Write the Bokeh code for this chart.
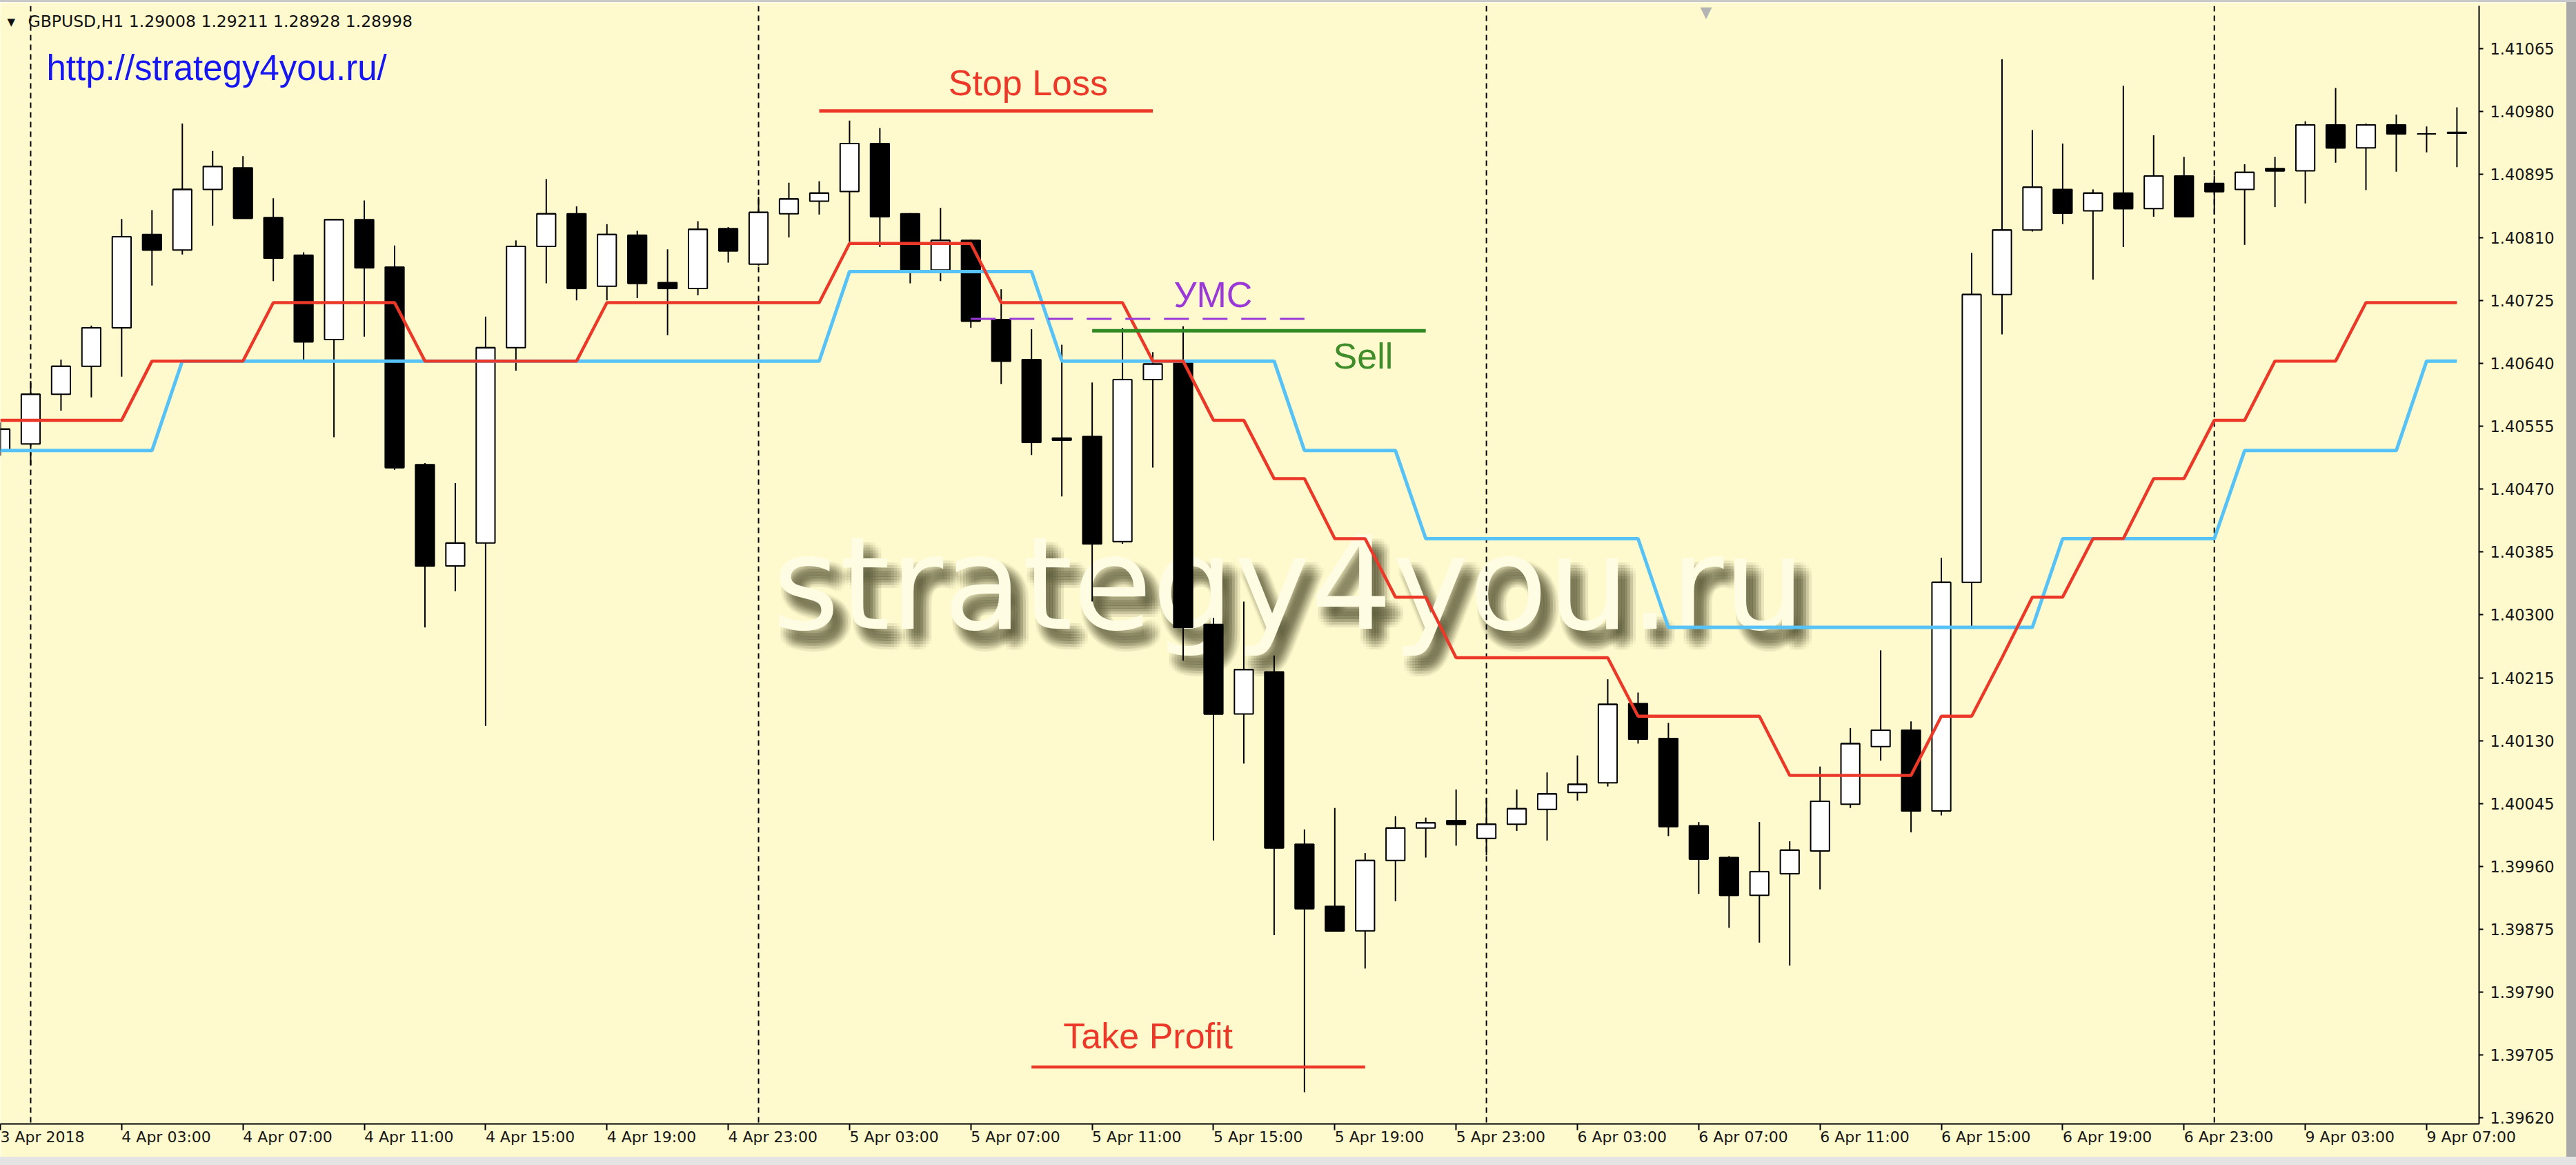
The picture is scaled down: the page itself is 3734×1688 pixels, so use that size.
from bokeh.plotting import figure
from bokeh.models import Range1d, FixedTicker, PrintfTickFormatter, Label, Span, Div
from bokeh.layouts import row, column
from bokeh.embed import file_html
from bokeh.resources import INLINE

# ---------------------------------------------------------------- data
# GBPUSD H1 bars, index 0 = 4 Apr 2018 00:00 (index -1 = 3 Apr 23:00)
bar_index = list(range(-1, 81))

open_px = [
    1.40522, 1.40531, 1.40598, 1.40636, 1.40688, 1.40814, 1.40793, 1.40875, 1.40904, 1.40837,
    1.40786, 1.40672, 1.40834, 1.40770, 1.40503, 1.40366, 1.40397, 1.40661, 1.40798, 1.40842,
    1.40744, 1.40813, 1.40749, 1.40741, 1.40822, 1.40774, 1.40842, 1.40859, 1.40872, 1.40937,
    1.40842, 1.40766, 1.40806, 1.40699, 1.40645, 1.40539, 1.40541, 1.40399, 1.40618, 1.40641,
    1.40287, 1.40166, 1.40223, 1.39990, 1.39906, 1.39873, 1.39968, 1.40012, 1.40022, 1.39998,
    1.40017, 1.40037, 1.40060, 1.40073, 1.40180, 1.40133, 1.40015, 1.39972, 1.39921, 1.39950,
    1.39981, 1.40044, 1.40122, 1.40144, 1.40035, 1.40344, 1.40733, 1.40820, 1.40875, 1.40846,
    1.40870, 1.40849, 1.40893, 1.40883, 1.40875, 1.40903, 1.40900, 1.40962, 1.40931, 1.40962,
    1.40950, 1.40952,
]
high_px = [
    1.40560, 1.40616, 1.40645, 1.40691, 1.40835, 1.40847, 1.40964, 1.40927, 1.40920, 1.40863,
    1.40790, 1.40834, 1.40860, 1.40799, 1.40505, 1.40478, 1.40703, 1.40806, 1.40889, 1.40852,
    1.40828, 1.40819, 1.40794, 1.40832, 1.40824, 1.40865, 1.40884, 1.40886, 1.40968, 1.40958,
    1.40843, 1.40850, 1.40807, 1.40740, 1.40686, 1.40665, 1.40614, 1.40688, 1.40655, 1.40690,
    1.40296, 1.40318, 1.40245, 1.40010, 1.40039, 1.39978, 1.40028, 1.40026, 1.40064, 1.40053,
    1.40064, 1.40087, 1.40110, 1.40213, 1.40195, 1.40154, 1.40020, 1.39974, 1.40020, 1.39994,
    1.40095, 1.40147, 1.40252, 1.40156, 1.40377, 1.40789, 1.41051, 1.40955, 1.40937, 1.40875,
    1.41015, 1.40948, 1.40919, 1.40893, 1.40909, 1.40919, 1.40967, 1.41012, 1.40964, 1.40976,
    1.40960, 1.40986,
]
low_px = [
    1.40515, 1.40502, 1.40576, 1.40594, 1.40622, 1.40745, 1.40787, 1.40826, 1.40836, 1.40751,
    1.40645, 1.40540, 1.40676, 1.40496, 1.40283, 1.40332, 1.40150, 1.40630, 1.40748, 1.40725,
    1.40725, 1.40728, 1.40678, 1.40732, 1.40776, 1.40772, 1.40810, 1.40841, 1.40804, 1.40797,
    1.40748, 1.40751, 1.40688, 1.40612, 1.40516, 1.40460, 1.40318, 1.40396, 1.40499, 1.40238,
    1.39995, 1.40099, 1.39867, 1.39655, 1.39873, 1.39822, 1.39913, 1.39972, 1.39988, 1.39975,
    1.40008, 1.39995, 1.40049, 1.40068, 1.40126, 1.40001, 1.39923, 1.39877, 1.39857, 1.39826,
    1.39929, 1.40039, 1.40103, 1.40006, 1.40029, 1.40285, 1.40679, 1.40818, 1.40828, 1.40753,
    1.40797, 1.40838, 1.40838, 1.40841, 1.40800, 1.40851, 1.40856, 1.40911, 1.40874, 1.40899,
    1.40925, 1.40905,
]
close_px = [
    1.40551, 1.40598, 1.40636, 1.40688, 1.40811, 1.40793, 1.40875, 1.40906, 1.40836, 1.40782,
    1.40669, 1.40834, 1.40769, 1.40499, 1.40366, 1.40397, 1.40661, 1.40798, 1.40842, 1.40741,
    1.40814, 1.40748, 1.40741, 1.40821, 1.40792, 1.40844, 1.40862, 1.40870, 1.40937, 1.40838,
    1.40765, 1.40806, 1.40697, 1.40643, 1.40533, 1.40536, 1.40396, 1.40618, 1.40639, 1.40283,
    1.40166, 1.40226, 1.39985, 1.39903, 1.39873, 1.39968, 1.40012, 1.40019, 1.40017, 1.40017,
    1.40038, 1.40058, 1.40071, 1.40179, 1.40132, 1.40014, 1.39970, 1.39921, 1.39953, 1.39982,
    1.40048, 1.40126, 1.40144, 1.40035, 1.40344, 1.40733, 1.40820, 1.40878, 1.40843, 1.40870,
    1.40849, 1.40893, 1.40838, 1.40872, 1.40898, 1.40900, 1.40962, 1.40931, 1.40962, 1.40950,
    1.40950, 1.40951,
]

# channel indicator (upper = red, lower = light blue)
red_level = [
    1.40563, 1.40563, 1.40563, 1.40563, 1.40563, 1.40643, 1.40643, 1.40643, 1.40643, 1.40722,
    1.40722, 1.40722, 1.40722, 1.40722, 1.40643, 1.40643, 1.40643, 1.40643, 1.40643, 1.40643,
    1.40722, 1.40722, 1.40722, 1.40722, 1.40722, 1.40722, 1.40722, 1.40722, 1.40802, 1.40802,
    1.40802, 1.40802, 1.40802, 1.40722, 1.40722, 1.40722, 1.40722, 1.40722, 1.40643, 1.40643,
    1.40563, 1.40563, 1.40484, 1.40484, 1.40403, 1.40403, 1.40324, 1.40324, 1.40242, 1.40242,
    1.40242, 1.40242, 1.40242, 1.40242, 1.40163, 1.40163, 1.40163, 1.40163, 1.40163, 1.40083,
    1.40083, 1.40083, 1.40083, 1.40083, 1.40163, 1.40163, 1.40242, 1.40324, 1.40324, 1.40403,
    1.40403, 1.40484, 1.40484, 1.40563, 1.40563, 1.40643, 1.40643, 1.40643, 1.40722, 1.40722,
    1.40722, 1.40722,
]
blue_level = [
    1.40522, 1.40522, 1.40522, 1.40522, 1.40522, 1.40522, 1.40643, 1.40643, 1.40643, 1.40643,
    1.40643, 1.40643, 1.40643, 1.40643, 1.40643, 1.40643, 1.40643, 1.40643, 1.40643, 1.40643,
    1.40643, 1.40643, 1.40643, 1.40643, 1.40643, 1.40643, 1.40643, 1.40643, 1.40764, 1.40764,
    1.40764, 1.40764, 1.40764, 1.40764, 1.40764, 1.40643, 1.40643, 1.40643, 1.40643, 1.40643,
    1.40643, 1.40643, 1.40643, 1.40522, 1.40522, 1.40522, 1.40522, 1.40403, 1.40403, 1.40403,
    1.40403, 1.40403, 1.40403, 1.40403, 1.40403, 1.40283, 1.40283, 1.40283, 1.40283, 1.40283,
    1.40283, 1.40283, 1.40283, 1.40283, 1.40283, 1.40283, 1.40283, 1.40283, 1.40403, 1.40403,
    1.40403, 1.40403, 1.40403, 1.40403, 1.40522, 1.40522, 1.40522, 1.40522, 1.40522, 1.40522,
    1.40643, 1.40643,
]

# trade levels drawn on the chart
note_text = ["Stop Loss", "УМС", "Sell", "Take Profit"]
note_price = [1.40981, 1.40700, 1.40684, 1.39689]
note_from_bar = [26, 31, 35, 33]
note_to_bar = [37, 42, 46, 44]

# axes
price_ticks = [1.39620, 1.39705, 1.39790, 1.39875, 1.39960, 1.40045, 1.40130, 1.40215, 1.40300,
               1.40385, 1.40470, 1.40555, 1.40640, 1.40725, 1.40810, 1.40895, 1.40980, 1.41065]
time_tick_bars = [-1, 3, 7, 11, 15, 19, 23, 27, 31, 35, 39, 43, 47, 51, 55, 59, 63, 67, 71, 75, 79]
time_tick_labels = ["3 Apr 2018", "4 Apr 03:00", "4 Apr 07:00", "4 Apr 11:00", "4 Apr 15:00",
                    "4 Apr 19:00", "4 Apr 23:00", "5 Apr 03:00", "5 Apr 07:00", "5 Apr 11:00",
                    "5 Apr 15:00", "5 Apr 19:00", "5 Apr 23:00", "6 Apr 03:00", "6 Apr 07:00",
                    "6 Apr 11:00", "6 Apr 15:00", "6 Apr 19:00", "6 Apr 23:00", "9 Apr 03:00",
                    "9 Apr 07:00"]
day_start_bars = [0, 24, 48, 72]

header_text = "GBPUSD,H1  1.29008 1.29211 1.28928 1.28998"
site_url = "http://strategy4you.ru/"
watermark = "strategy4you.ru"

# ---------------------------------------------------------------- style
BG = "#FFFACD"
RED = "#EC3828"
BLUE = "#57C2F5"
GREEN = "#2F8A22"
PURPLE = "#9A38D8"
W, H = 3720, 1676
FRAME_RIGHT, FRAME_TOP, FRAME_BOTTOM = 3593, 8, 1628
BAR_W = 0.62
PX_PER_PRICE = 1620 / (1.41123 - 1.39612)

p = figure(width=W, height=H - 3,
           x_range=Range1d(-1.0, 80.73), y_range=Range1d(1.39612, 1.41123),
           y_axis_location="right", x_axis_location="below",
           output_backend="svg", toolbar_location=None,
           min_border_left=0, min_border_right=W - FRAME_RIGHT,
           min_border_top=FRAME_TOP - 3, min_border_bottom=H - FRAME_BOTTOM,
           background_fill_color=BG, border_fill_color=BG, outline_line_color=None,
           margin=0)
p.xgrid.visible = False
p.ygrid.visible = False


def frame_y(canvas_y, size):
    # label anchor (frame pixels, upward) for a text whose baseline sits at canvas_y
    return FRAME_BOTTOM - canvas_y + 0.33 * size


# watermark with a soft drop shadow (stacked translucent copies)
WM_SIZE = 187
wm_x, wm_base = 1119, 907
for dx in (-12, -8, -4, 0, 4, 8, 12):
    for dy in (-12, -8, -4, 0, 4, 8, 12):
        if dx * dx + dy * dy > 170:
            continue
        p.add_layout(Label(x=wm_x + 14 + dx, y=frame_y(wm_base + 18 + dy, WM_SIZE),
                           x_units="screen", y_units="screen", text=watermark,
                           text_font="DejaVu Sans", text_font_size=f"{WM_SIZE}px",
                           text_color="#3C3A22", text_alpha=0.035,
                           text_baseline="alphabetic", level="underlay"))
p.add_layout(Label(x=wm_x, y=frame_y(wm_base, WM_SIZE), x_units="screen", y_units="screen",
                   text=watermark, text_font="DejaVu Sans", text_font_size=f"{WM_SIZE}px",
                   text_color="#FFFCE4", text_baseline="alphabetic", level="underlay"))

# day separators
for b in day_start_bars:
    p.add_layout(Span(location=b, dimension="height", line_color="black",
                      line_width=2, line_dash="8 6", level="underlay"))

# candles
body_top = [max(o, c) for o, c in zip(open_px, close_px)]
body_bot = [min(o, c) for o, c in zip(open_px, close_px)]
body_fill = ["white" if c >= o else "black" for o, c in zip(open_px, close_px)]
p.segment(x0=bar_index, y0=low_px, x1=bar_index, y1=high_px, line_color="black", line_width=2)
p.vbar(x=bar_index, width=BAR_W, top=body_top, bottom=body_bot,
       fill_color=body_fill, line_color="black", line_width=2)
left_edge = [b - BAR_W / 2 for b in bar_index]
right_edge = [b + BAR_W / 2 for b in bar_index]
p.segment(x0=left_edge, y0=close_px, x1=right_edge, y1=close_px, line_color="black", line_width=2)

# channel lines
p.line(bar_index, blue_level, line_color=BLUE, line_width=5)
p.line(bar_index, red_level, line_color=RED, line_width=4.5)

# trade level lines and their captions
NOTE_SIZE = 52
note_color = [RED, PURPLE, GREEN, RED]
note_dash = ["solid", "36 20", "solid", "solid"]
note_width = [5, 3, 5, 4.5]
note_label_x = [30.26, 37.69, 42.95, 34.05]
note_label_base = [1.41003, 1.40717, 1.40634, 1.39715]
for i in range(len(note_text)):
    p.segment(x0=[note_from_bar[i]], y0=[note_price[i]], x1=[note_to_bar[i]], y1=[note_price[i]],
              line_color=note_color[i], line_width=note_width[i], line_dash=note_dash[i])
    p.add_layout(Label(x=note_label_x[i], y=note_label_base[i] + 0.33 * NOTE_SIZE / PX_PER_PRICE,
                       text=note_text[i], text_font="Liberation Sans",
                       text_font_size=f"{NOTE_SIZE}px",
                       text_color="#3E8C2A" if note_text[i] == "Sell" else note_color[i],
                       text_baseline="alphabetic"))

# header, chart-shift marker and site link
p.add_layout(Label(x=10, y=frame_y(36, 15), x_units="screen", y_units="screen", text="▼",
                   text_font="DejaVu Sans", text_font_size="15px", text_color="#111111",
                   text_baseline="alphabetic"))
p.add_layout(Label(x=40, y=frame_y(38, 23.5), x_units="screen", y_units="screen", text=header_text,
                   text_font="DejaVu Sans", text_font_size="23.5px", text_color="#111111",
                   text_baseline="alphabetic"))
p.add_layout(Label(x=2464, y=frame_y(24, 22), x_units="screen", y_units="screen", text="▼",
                   text_font="DejaVu Sans", text_font_size="22px", text_color="#B4B4B4",
                   text_baseline="alphabetic"))
p.add_layout(Label(x=67, y=frame_y(115, 51), x_units="screen", y_units="screen", text=site_url,
                   text_font="Liberation Sans", text_font_size="51px", text_color="#1616F2",
                   text_baseline="alphabetic"))

# axes
yax = p.yaxis[0]
yax.ticker = FixedTicker(ticks=price_ticks)
yax.formatter = PrintfTickFormatter(format="%.5f")
yax.axis_line_color = "black"
yax.axis_line_width = 2
yax.major_tick_out = 6
yax.major_tick_in = 0
yax.major_tick_line_width = 2
yax.minor_tick_line_color = None
yax.major_label_standoff = 10
yax.major_label_text_font = "DejaVu Sans"
yax.major_label_text_font_size = "22.5px"
yax.major_label_text_color = "#161616"

xax = p.xaxis[0]
xax.ticker = FixedTicker(ticks=time_tick_bars)
xax.major_label_overrides = {b: t for b, t in zip(time_tick_bars, time_tick_labels)}
xax.axis_line_color = "black"
xax.axis_line_width = 2
xax.major_tick_out = 9
xax.major_tick_in = 0
xax.major_tick_line_width = 2
xax.minor_tick_line_color = None
xax.major_label_standoff = 10
xax.major_label_orientation = -1e-6
xax.major_label_text_font = "DejaVu Sans"
xax.major_label_text_font_size = "22px"
xax.major_label_text_color = "#161616"

top_strip = Div(width=3734, height=3, margin=0, styles={"background-color": "#C8C8C8"})
side_strip = Div(width=3734 - W, height=H - 3, margin=0, styles={"background-color": "#A9A9A9"})
bottom_strip = Div(width=3734, height=1688 - H, margin=0, styles={"background-color": "#E4E4E4"})
layout = column(top_strip, row(p, side_strip, spacing=0), bottom_strip, spacing=0)

open("out.html", "w").write(file_html(layout, INLINE))
